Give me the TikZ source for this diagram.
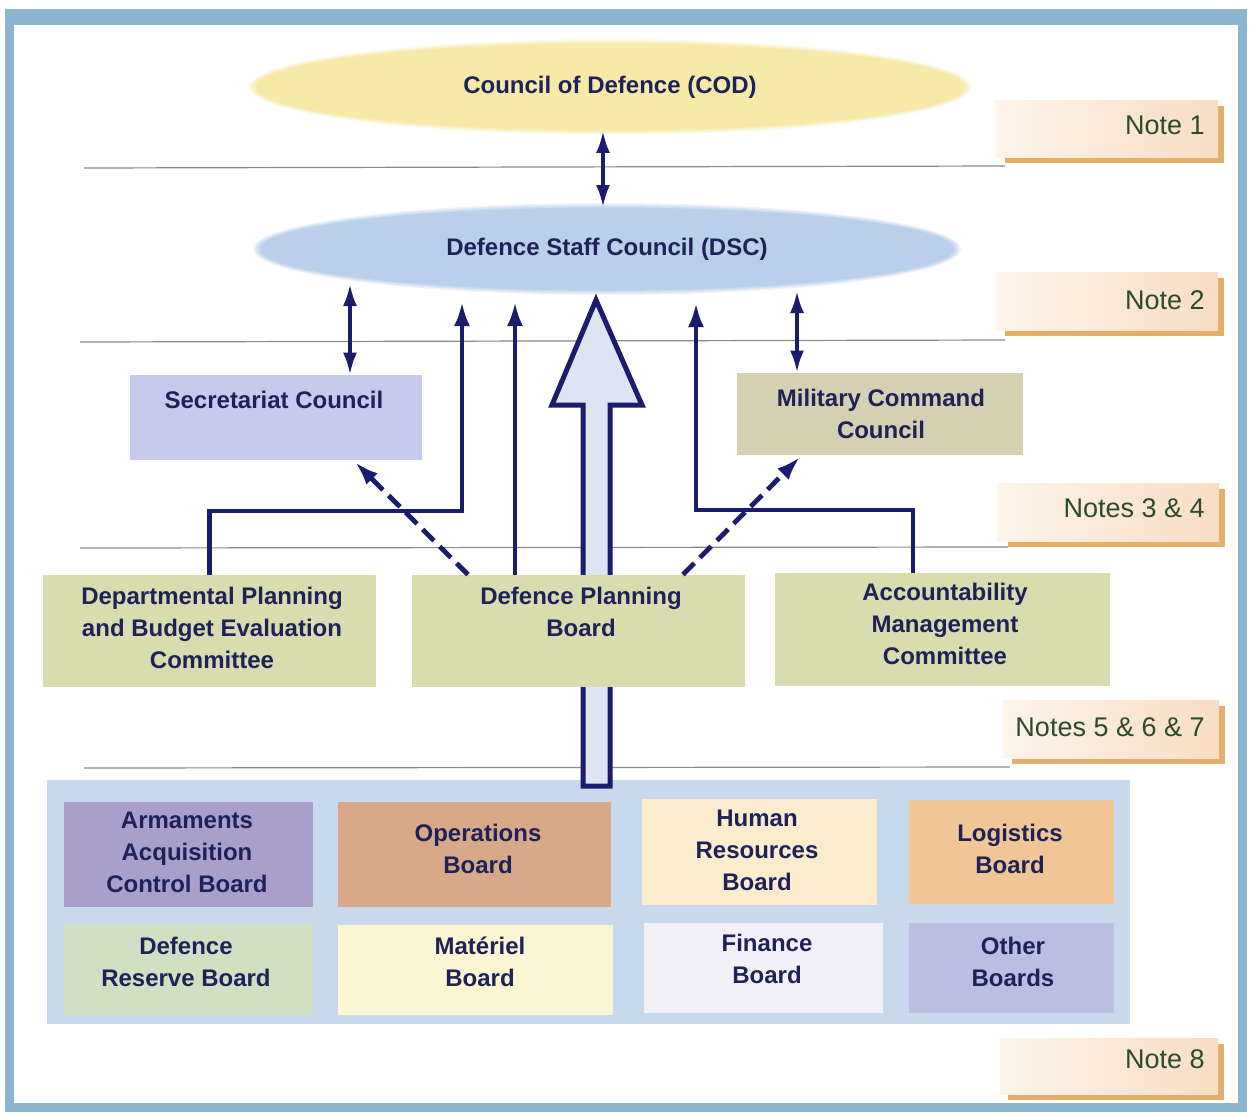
\documentclass[tikz,border=0pt]{standalone}
\usepackage{fontspec}
\setmainfont{Liberation Sans}
\usetikzlibrary{arrows.meta,shapes.geometric,fit}
\definecolor{framecol}{HTML}{8DB5CF}
\definecolor{sepgray}{HTML}{8A8A8A}
\definecolor{arrnavy}{HTML}{1C1C6E}
\definecolor{txtnavy}{HTML}{1E2259}
\definecolor{notegreen}{HTML}{2D4A2D}
\definecolor{notefill}{HTML}{F9DDC3}
\definecolor{notelight}{HTML}{FDF4EB}
\definecolor{noteshadow}{HTML}{E4AE6C}
\definecolor{codcol}{HTML}{F7EAA9}
\definecolor{dsccol}{HTML}{BAD0EA}
\definecolor{seccol}{HTML}{C6CBED}
\definecolor{mcccol}{HTML}{D5D0B2}
\definecolor{olive}{HTML}{D8DCAF}
\definecolor{panelcol}{HTML}{C8D9EB}
\definecolor{armcol}{HTML}{A8A0CB}
\definecolor{opscol}{HTML}{D8A888}
\definecolor{hrcol}{HTML}{FBECCD}
\definecolor{logcol}{HTML}{F1C696}
\definecolor{rescol}{HTML}{CFE1C2}
\definecolor{matcol}{HTML}{FBF5D3}
\definecolor{fincol}{HTML}{F3F1F8}
\definecolor{othcol}{HTML}{B8BFE0}
\definecolor{bigfill}{HTML}{DDE5F4}
\begin{document}
\begin{tikzpicture}[x=0.5pt,y=-0.5pt,
  lbl/.style={font=\fontsize{12}{16}\selectfont\bfseries, text=txtnavy, align=center, inner sep=0},
  cell/.style={inner sep=0, draw=none},
  sep/.style={draw=sepgray, line width=0.6pt},
  conn/.style={draw=arrnavy, line width=2.2pt, line join=miter, -{Latex[length=12pt,width=8pt]}},
  dbl/.style={draw=arrnavy, line width=1.8pt, {Latex[length=11pt,width=7pt]}-{Latex[length=11pt,width=7pt]}},
  dsh/.style={conn, line width=2.4pt, dash pattern=on 8pt off 4pt},
  notebox/.style={inner sep=0, left color=notelight, right color=notefill},
  noteshd/.style={inner sep=0, fill=noteshadow},
  notetxt/.style={font=\fontsize{13.5}{16}\selectfont, text=notegreen, anchor=east, inner sep=0},
  bigarr/.style={draw=arrnavy, line width=2.5pt, fill=bigfill, line join=miter, miter limit=20},
  halo/.style={ellipse, inner sep=0, draw=none},
]
\useasboundingbox (0,0) rectangle (1250,1115);
% frame
\fill[framecol] (5,9) rectangle (1247,1112);
\fill[white] (14,25) rectangle (1238,1103);

% separators
\draw[sep] (84,168) -- (1005,166);
\draw[sep] (80,342) -- (1005,340);
\draw[sep] (80,548) -- (1008,547);
\draw[sep] (84,768) -- (1010,767);

% notes
\node[noteshd, fit={(1005,106) (1224,163)}] (n1s) {};
\node[notebox, fit={(995,100) (1218,157)}] (n1) {};
\node[notetxt] (n1t) at (1205,125) {Note 1};
\node[noteshd, fit={(1005,278) (1224,336)}] (n2s) {};
\node[notebox, fit={(995,272) (1218,330)}] (n2) {};
\node[notetxt] (n2t) at (1205,300) {Note 2};
\node[noteshd, fit={(1008,489) (1225,547)}] (n3s) {};
\node[notebox, fit={(997,483) (1219,541)}] (n3) {};
\node[notetxt] (n3t) at (1205,508) {Notes 3 \& 4};
\node[noteshd, fit={(1012,706) (1225,764)}] (n4s) {};
\node[notebox, fit={(1003,700) (1219,758)}] (n4) {};
\node[notetxt] (n4t) at (1205,727) {Notes 5 \& 6 \& 7};
\node[noteshd, fit={(1008,1044) (1224,1100)}] (n5s) {};
\node[notebox, fit={(1000,1038) (1218,1094)}] (n5) {};
\node[notetxt] (n5t) at (1205,1059) {Note 8};

% ellipses with soft edges
\node[halo, minimum width=361pt, minimum height=48pt, fill=codcol!25] (codh1) at (610,87) {};
\node[halo, minimum width=359pt, minimum height=46.5pt, fill=codcol!50] (codh2) at (610,87) {};
\node[halo, minimum width=357pt, minimum height=45pt, fill=codcol!75] (codh3) at (610,87) {};
\node[halo, minimum width=354pt, minimum height=43.5pt, fill=codcol, lbl] (cod) at (610,87) {Council of Defence (COD)};
\node[halo, minimum width=354pt, minimum height=46pt, fill=dsccol!25] (dsch1) at (607,249) {};
\node[halo, minimum width=352pt, minimum height=44.5pt, fill=dsccol!50] (dsch2) at (607,249) {};
\node[halo, minimum width=350pt, minimum height=43pt, fill=dsccol!75] (dsch3) at (607,249) {};
\node[halo, minimum width=347pt, minimum height=41.5pt, fill=dsccol, lbl] (dsc) at (607,249) {Defence Staff Council (DSC)};

% bottom panel
\node[cell, fill=panelcol, fit={(47,780) (1130,1024)}] (panel) {};
\node[cell, fill=armcol, fit={(64,802) (313,907)}] (arm) {};
\node[cell, fill=opscol, fit={(338,802) (611,907)}] (ops) {};
\node[cell, fill=hrcol, fit={(642,799) (877,905)}] (hr) {};
\node[cell, fill=logcol, fit={(909,800) (1114,904)}] (log) {};
\node[cell, fill=rescol, fit={(64,924) (313,1015)}] (res) {};
\node[cell, fill=matcol, fit={(338,925) (613,1015)}] (mat) {};
\node[cell, fill=fincol, fit={(644,923) (883,1013)}] (fin) {};
\node[cell, fill=othcol, fit={(909,923) (1114,1013)}] (oth) {};
\node[lbl] (armt) at (187,852) {Armaments\\Acquisition\\Control Board};
\node[lbl] (opst) at (478,849) {Operations\\Board};
\node[lbl] (hrt) at (757,850) {Human\\Resources\\Board};
\node[lbl] (logt) at (1010,849) {Logistics\\Board};
\node[lbl] (rest) at (186,962) {Defence\\Reserve Board};
\node[lbl] (matt) at (480,962) {Matériel\\Board};
\node[lbl] (fint) at (767,959) {Finance\\Board};
\node[lbl] (otht) at (1013,962) {Other\\Boards};

% big hollow arrow
\draw[bigarr] (583,786) -- (583,405) -- (552,405) -- (596,300) -- (642,405) -- (610,405) -- (610,786) -- cycle;

% boxes
\node[cell, fill=seccol, fit={(130,375) (422,460)}] (sec) {};
\node[lbl] (sect) at (274,400) {Secretariat Council};
\node[cell, fill=mcccol, fit={(737,373) (1023,455)}] (mcc) {};
\node[lbl] (mcct) at (881,414) {Military Command\\Council};
\node[cell, fill=olive, fit={(43,575) (376,687)}] (dpbec) {};
\node[lbl] (dpbect) at (212,628) {Departmental Planning\\and Budget Evaluation\\Committee};
\node[cell, fill=olive, fit={(412,575) (745,687)}] (dpb) {};
\node[lbl] (dpbt) at (581,612) {Defence Planning\\Board};
\node[cell, fill=olive, fit={(775,573) (1110,686)}] (amc) {};
\node[lbl] (amct) at (945,624) {Accountability\\Management\\Committee};

% connectors
\coordinate (t1) at (462,302);
\coordinate (j1) at (462,511);
\draw[conn] (dpbec.north) |- (j1) -- (t1);
\coordinate (t2) at (515,302);
\draw[conn] (t2 |- dpb.north) -- (t2);
\coordinate (t3) at (696,303);
\coordinate (j3) at (696,510);
\coordinate (j4) at (913,510);
\draw[conn] (j4 |- amc.north) -- (j4) -- (j3) -- (t3);

% double arrows
\coordinate (m0) at (603,0);
\draw[dbl] (cod.south -| m0) -- (dsc.north -| m0);
\coordinate (d1) at (350,284);
\draw[dbl] (d1) -- (d1 |- sec.north);
\coordinate (d2) at (797,291);
\draw[dbl] (d2) -- (d2 |- mcc.north);

% dashed arrows
\coordinate (s1) at (468,0);
\coordinate (e1) at (355,462);
\draw[dsh] (s1 |- dpb.north) -- (e1);
\coordinate (s2) at (683,0);
\coordinate (e2) at (800,457);
\draw[dsh] (s2 |- dpb.north) -- (e2);
\end{tikzpicture}
\end{document}
